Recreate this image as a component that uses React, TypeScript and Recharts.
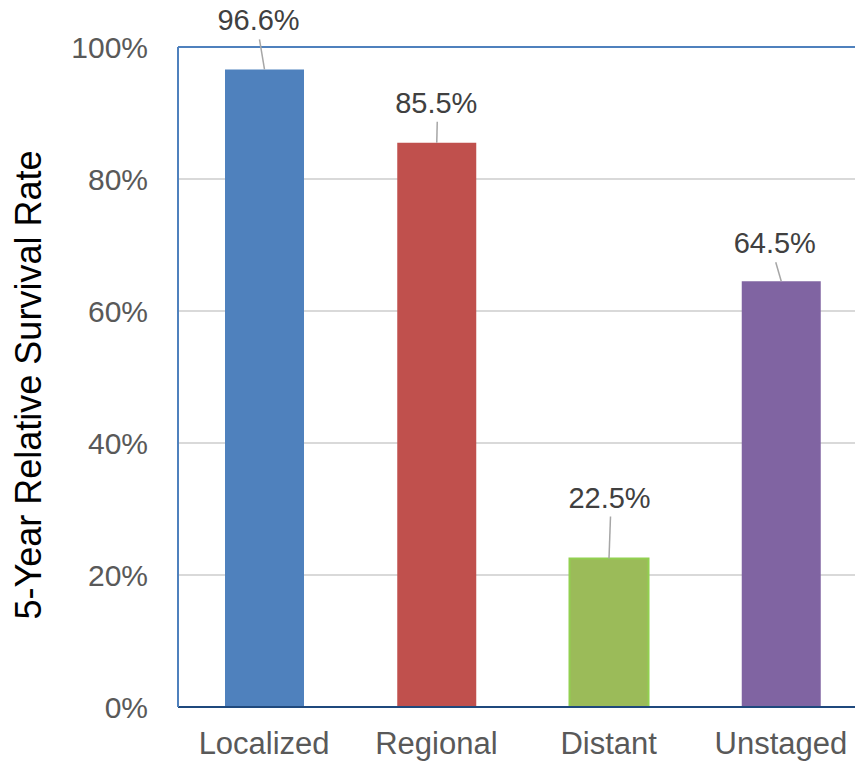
import React from 'react'
import {
  BarChart,
  Bar,
  XAxis,
  YAxis,
  CartesianGrid,
  ReferenceLine,
  LabelList,
  Cell,
} from 'recharts'

const stages = ['Localized', 'Regional', 'Distant', 'Unstaged']
const survival = [96.6, 85.5, 22.5, 64.5]
const yTicks = [0, 20, 40, 60, 80, 100]

const barColors = ['#4F81BD', '#C0504D', '#9BBB59', '#8064A2']
// label nudges (dx, rise above bar top), like hand-dragged Excel labels
const labelNudge = [
  [-6, 49],
  [-0.5, 40],
  [0.5, 61],
  [-6.5, 38],
]

const data = stages.map((stage, i) => ({ stage, value: survival[i] }))

const FONT = '"Liberation Sans", Arial, sans-serif'

function LeaderLabel(props: any) {
  const { x, y, width, value, index } = props
  const cx = x + width / 2
  const [dx, rise] = labelNudge[index]
  const ly = y - rise
  return (
    <g>
      <line x1={cx + dx + 1} y1={ly + 19} x2={cx} y2={y} stroke="#A6A6A6" strokeWidth={1.5} />
      <text
        x={cx + dx}
        y={ly + 10}
        textAnchor="middle"
        fontSize={29}
        fontFamily={FONT}
        fill="#404040"
      >
        {value.toFixed(1)}%
      </text>
    </g>
  )
}

function AxisTitle(props: any) {
  const { viewBox } = props
  const tx = viewBox.x + 28
  const ty = viewBox.y + viewBox.height / 2 + 8
  return (
    <text
      x={tx}
      y={ty}
      transform={`rotate(-90 ${tx} ${ty})`}
      textAnchor="middle"
      dominantBaseline="central"
      fontSize={36}
      fontFamily={FONT}
      fill="#000000"
    >
      5-Year Relative Survival Rate
    </text>
  )
}

export default function App() {
  return (
    <div
      style={{
        position: 'fixed',
        left: 0,
        top: 0,
        width: 855,
        height: 762,
        overflow: 'hidden',
        background: '#fff',
      }}
    >
      <BarChart
        width={880}
        height={762}
        data={data}
        margin={{ top: 47, right: 13, bottom: 0, left: 0 }}
      >
        <CartesianGrid vertical={false} stroke="#D9D9D9" strokeWidth={2} />
        <XAxis
          dataKey="stage"
          height={55}
          tickSize={0}
          tickMargin={25}
          axisLine={{ stroke: '#1F497D', strokeWidth: 2 }}
          tick={{ fontSize: 31, fontFamily: FONT, fill: '#595959' }}
        />
        <YAxis
          width={178}
          domain={[0, 100]}
          ticks={yTicks}
          tickFormatter={(v) => `${v}%`}
          tickSize={0}
          tickMargin={30}
          axisLine={{ stroke: '#4F81BD', strokeWidth: 2 }}
          tick={{ fontSize: 30, fontFamily: FONT, fill: '#595959' }}
          label={<AxisTitle />}
        />
        <ReferenceLine y={100} stroke="#4F81BD" strokeWidth={2} />
        <Bar dataKey="value" barSize={79} isAnimationActive={false}>
          {data.map((d, i) => (
            <Cell
              key={d.stage}
              fill={barColors[i]}
              stroke={i === 2 ? '#92D050' : 'none'}
              strokeWidth={i === 2 ? 2 : 0}
            />
          ))}
          <LabelList dataKey="value" content={<LeaderLabel />} />
        </Bar>
      </BarChart>
    </div>
  )
}
